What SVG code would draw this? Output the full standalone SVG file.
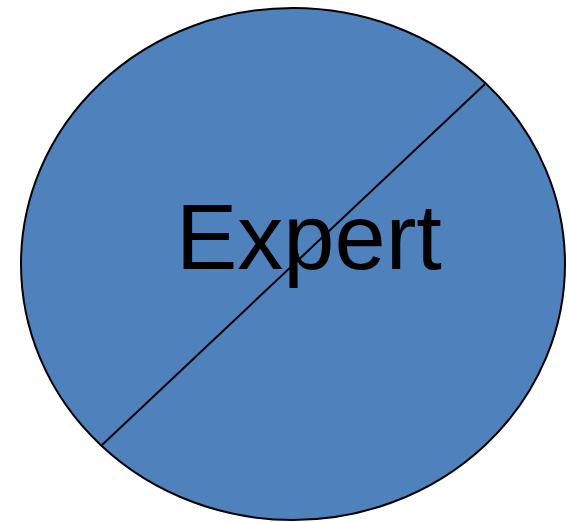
<svg xmlns="http://www.w3.org/2000/svg" width="567" height="522" viewBox="0 0 567 522">
<style>
.shape{fill:#4f81bd;stroke:#000;stroke-width:2}
.div{stroke:#000;stroke-width:2;fill:none}
.lbl{font-family:"Liberation Sans",Arial,sans-serif;font-size:92px;fill:#000}
</style>
<rect width="567" height="522" fill="#fff"/>
<g id="expert">
<ellipse class="shape" cx="293" cy="264" rx="272" ry="256"/>
<line class="div" x1="102" y1="445" x2="485" y2="84"/>
<text class="lbl" x="176" y="269">Expert</text>
</g>
</svg>
